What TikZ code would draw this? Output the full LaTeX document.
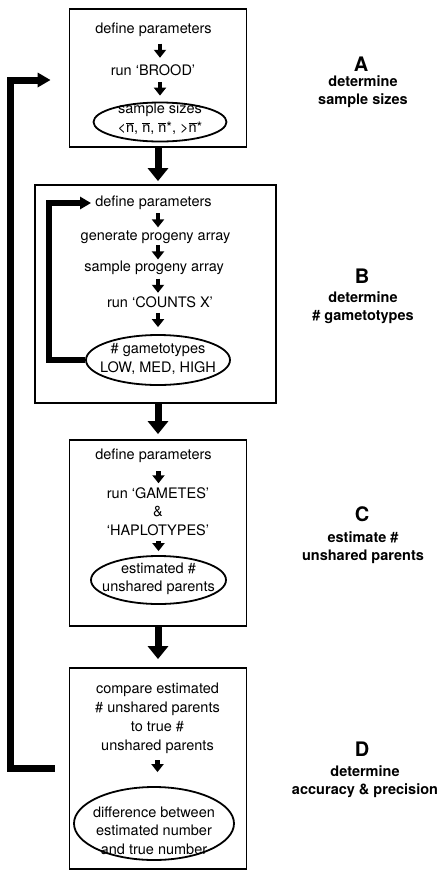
\documentclass[tikz,border=0pt]{standalone}
\usepackage{fontspec}
\setmainfont{TeX Gyre Heros}
\usetikzlibrary{arrows.meta,shapes.geometric}
\newcommand{\nover}{\ensuremath{\overline{\mbox{n}}}}

\begin{document}
\begin{tikzpicture}[x=1pt, y=-1pt,
    txt/.style = {font=\fontsize{14.5}{18.5}\selectfont, align=center, inner sep=0pt},
    lbl/.style = {font=\fontsize{14.5}{18}\selectfont\bfseries, align=center, inner sep=0pt},
    letter/.style = {font=\fontsize{20}{22}\selectfont\bfseries, inner sep=0pt},
    box/.style = {draw, line width=1.8pt, minimum width=177pt},
    oval/.style = {draw, ellipse, line width=1.8pt, inner sep=0pt},
    thinarrow/.style = {line width=4.5pt, -{Triangle[width=12pt,length=8pt]}},
    thickarrow/.style = {line width=7pt, -{Triangle[width=20pt,length=13pt]}},
    backline/.style = {line width=5.5pt, -{Triangle[width=12pt,length=11pt]}, shorten >=4pt},
    backarrow/.style = {line width=7pt, -{Triangle[width=14pt,length=13pt]}}]
    \useasboundingbox (0,0) rectangle (440,871);

    % A
    \node[box, minimum height=138pt] (boxA) at (158,78) {};
    \node[txt] (a1) at (153.5,30) {define parameters};
    \node[txt] (a2) at (153,70) {run ‘BROOD’};
    \node[oval, minimum width=133pt, minimum height=39pt] (ellA) at (160,122) {};
    \node[txt] (ellAt) at (160,119) {sample sizes\\<\nover, \nover, \nover*, >\nover*};
    \node[letter] (la) at (361,64) {A};
    \node[lbl] (ta) at (363,92) {determine\\sample sizes};

    % B
    \node[box, minimum width=241pt, minimum height=218pt] (boxB) at (155.5,294) {};
    \node[txt] (b1) at (153.5,203) {define parameters};
    \node[txt] (b2) at (155.5,237) {generate progeny array};
    \node[txt] (b3) at (154,268) {sample progeny array};
    \node[txt] (b4) at (160,302) {run ‘COUNTS X’};
    \node[oval, minimum width=144pt, minimum height=50pt] (ellB) at (158,360) {};
    \node[txt] (ellBt) at (158,359) {\# gametotypes\\LOW, MED, HIGH};
    \node[letter] (lb) at (362,276) {B};
    \node[lbl] (tb) at (363,308) {determine\\\# gametotypes};

    % C
    \node[box, minimum height=186pt] (boxC) at (158,533) {};
    \node[txt] (c1) at (153.5,456) {define parameters};
    \node[txt] (c2) at (158,511.5) {run ‘GAMETES’\\\&\\‘HAPLOTYPES’};
    \node[oval, minimum width=135pt, minimum height=48pt] (ellC) at (158.5,580) {};
    \node[txt] (ellCt) at (158.5,579) {estimated \#\\unshared parents};
    \node[letter] (lc) at (362,514) {C};
    \node[lbl] (tc) at (363,548) {estimate \#\\unshared parents};

    % D
    \node[box, minimum height=201pt] (boxD) at (158,768.5) {};
    \node[txt, font=\fontsize{14.5}{19}\selectfont] (d1) at (157.5,718.5) {compare estimated\\\# unshared parents\\to true \#\\unshared parents};
    \node[oval, minimum width=160pt, minimum height=73pt] (ellD) at (154,823.5) {};
    \node[txt] (ellDt) at (154,830.5) {difference between\\estimated number\\and true number};
    \node[letter] (ld) at (362,749) {D};
    \node[lbl] (td) at (365,782) {determine\\accuracy \& precision};

    % steps inside the boxes
    \draw[thinarrow, shorten <=6.5pt, shorten >=6.5pt] (a1.south -| ellA) -- (a2.north -| ellA);
    \draw[thinarrow, shorten <=6pt, shorten >=6pt] (a2.south -| ellA) -- (ellA.north);
    \draw[thinarrow, shorten <=3pt, shorten >=3pt] (b1.south -| ellB) -- (b2.north -| ellB);
    \draw[thinarrow, shorten <=1.5pt, shorten >=1.5pt] (b2.south -| ellB) -- (b3.north -| ellB);
    \draw[thinarrow, shorten <=3.5pt, shorten >=3.5pt] (b3.south -| ellB) -- (b4.north -| ellB);
    \draw[thinarrow, shorten <=5pt, shorten >=7pt] (b4.south -| ellB) -- (ellB.north);
    \draw[thinarrow, shorten <=8pt, shorten >=4pt] (c1.south -| ellC) -- (c2.north -| ellC);
    \draw[thinarrow, shorten <=5pt, shorten >=4pt] (c2.south -| ellC) -- (ellC.north);
    \draw[thinarrow, shorten <=6pt, shorten >=14pt] (d1.south) -- (d1.south |- ellD.north);

    % between the boxes
    \draw[thickarrow, shorten >=3pt] (boxA.south) -- (boxA.south |- boxB.north);
    \draw[thickarrow, shorten >=5pt] (boxC.north |- boxB.south) -- (boxC.north);
    \draw[thickarrow, shorten >=8pt] (boxC.south) -- (boxD.north);

    % loops
    \draw[backline] (ellB.west) -- ++(-36,0) |- (b1.west);
    \coordinate (out1) at ([xshift=-14pt]boxD.west);
    \coordinate (out2) at ([xshift=-18pt,yshift=-2pt]boxA.west);
    \draw[backarrow] (out1) -- ++(-44,0) |- (out2);
\end{tikzpicture}
\end{document}
